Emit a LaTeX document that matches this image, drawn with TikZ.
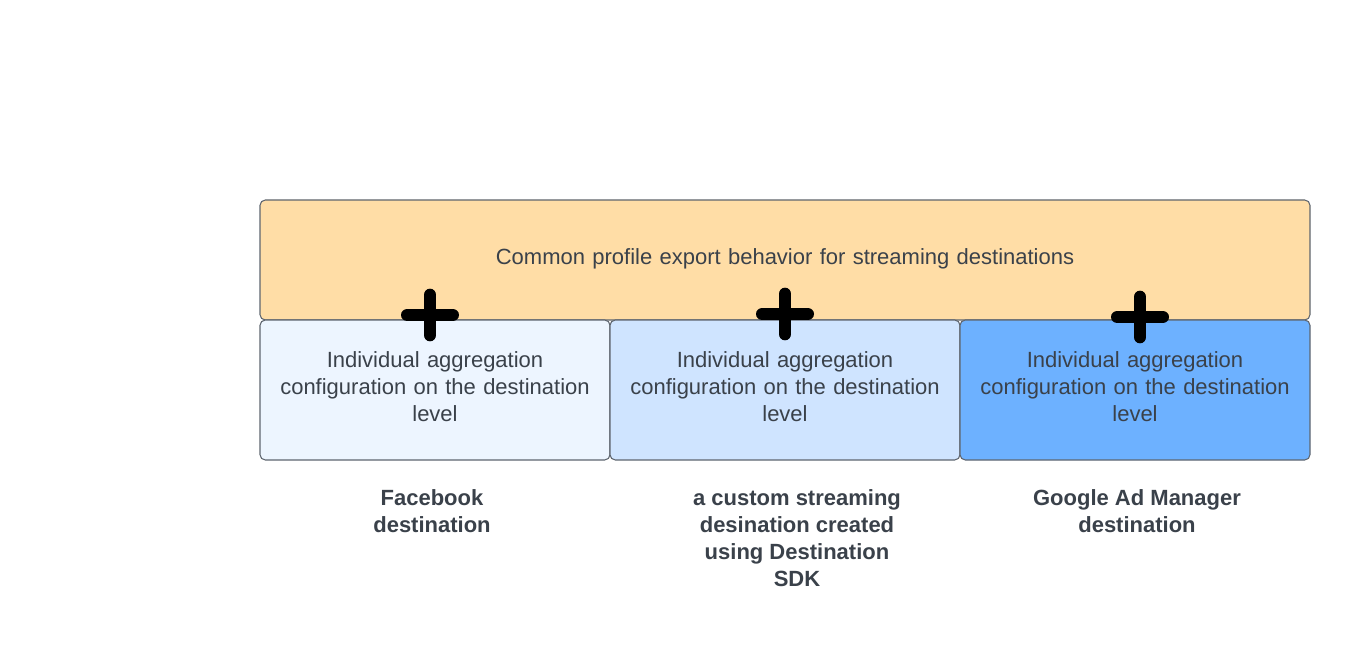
\documentclass[tikz,border=0pt]{standalone}
\usepackage{fontspec}
\setmainfont{Liberation Sans}
\definecolor{txt}{HTML}{3A414A}
\definecolor{bord}{HTML}{5F6670}
\definecolor{topfill}{HTML}{FFDDA6}
\definecolor{fillA}{HTML}{EDF5FF}
\definecolor{fillB}{HTML}{CFE4FF}
\definecolor{fillC}{HTML}{6DB1FF}
\tikzset{
  box/.style={draw=bord, line width=0.8pt, rounded corners=4pt, inner sep=0pt},
  boxtext/.style={text=txt, font=\fontsize{16.5}{20.25}\selectfont, align=center, text width=260pt},
  lbl/.style={text=txt, font=\bfseries\fontsize{16.5}{20.25}\selectfont, align=center, anchor=north, inner sep=0pt},
  plusbar/.style={line width=9.5pt, line cap=round, draw=black}
}
\begin{document}
\begin{tikzpicture}[x=0.75pt,y=-0.75pt]
\useasboundingbox (0,0) rectangle (1350,663);
\fill[white] (0,0) rectangle (1350,663);
% top box
\draw[box, fill=topfill] (260,200) rectangle (1310,320);
\node[boxtext, text width=700pt] (top) at (785,259) {Common profile export behavior for streaming destinations};
% bottom boxes
\draw[box, fill=fillA] (260,320) rectangle (610,460);
\draw[box, fill=fillB] (610,320) rectangle (960,460);
\draw[box, fill=fillC] (960,320) rectangle (1310,460);
\node[boxtext] (ba) at (435,387) {Individual aggregation\\configuration on the destination\\level};
\node[boxtext] (bb) at (785,387) {Individual aggregation\\configuration on the destination\\level};
\node[boxtext] (bc) at (1135,387) {Individual aggregation\\configuration on the destination\\level};
% plus signs
\coordinate (pa) at (430,315);
\coordinate (pb) at (785,314);
\coordinate (pc) at (1140,317);
\foreach \p in {pa,pb,pc}{
  \draw[plusbar] ([xshift=-17pt]\p) -- ([xshift=17pt]\p);
  \draw[plusbar] ([yshift=15pt]\p) -- ([yshift=-15pt]\p);
}
% labels
\node[lbl] (la) at (432,489) {Facebook\\destination};
\node[lbl] (lb) at (797,489) {a custom streaming\\desination created\\using Destination\\SDK};
\node[lbl] (lc) at (1137,489) {Google Ad Manager\\destination};
\end{tikzpicture}
\end{document}
